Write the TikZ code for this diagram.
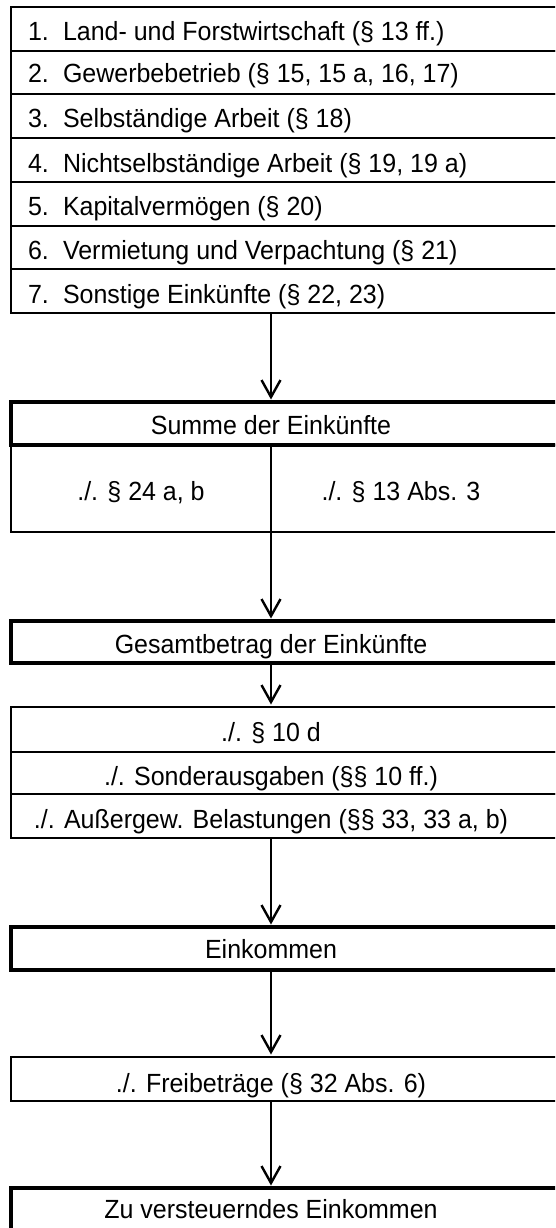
\documentclass[tikz,border=0pt]{standalone}
\usepackage{fontspec}
\setmainfont{Liberation Sans}[FakeStretch=0.95]
\usetikzlibrary{arrows.meta,calc}
\begin{document}
\begin{tikzpicture}[x=1pt,y=-1pt,
  thinbox/.style={draw, line width=2pt, inner sep=0pt, outer sep=0pt, anchor=north west, minimum width=570pt},
  thickbox/.style={thinbox, line width=3.4pt},
  lbl/.style={inner sep=0pt, outer sep=0pt, font=\fontsize{26.3}{30}\selectfont},
  arr/.style={line width=2.4pt, -{Straight Barb[length=17pt,width=19pt]}, shorten >=2.5pt}]
\useasboundingbox (0,0) rectangle (555,1228);
\clip (0,0) rectangle (555,1228);
\coordinate (cx) at (271,0);

% list of income types
\node[thinbox, minimum height=43.7pt] (r1) at (11,7) {};
\node[thinbox, minimum height=43.7pt] (r2) at (11,50.7) {};
\node[thinbox, minimum height=43.7pt] (r3) at (11,94.4) {};
\node[thinbox, minimum height=43.7pt] (r4) at (11,138.1) {};
\node[thinbox, minimum height=43.7pt] (r5) at (11,181.8) {};
\node[thinbox, minimum height=43.7pt] (r6) at (11,225.5) {};
\node[thinbox, minimum height=43.8pt] (r7) at (11,269.2) {};

\node[lbl, anchor=base west] (n1) at (28,41) {1.};
\node[lbl, anchor=base west] (t1) at (63,41) {Land- und Forstwirtschaft (§ 13 ff.)};
\node[lbl, anchor=base west] (n2) at (28,83) {2.};
\node[lbl, anchor=base west] (t2) at (63,83) {Gewerbebetrieb (§ 15, 15 a, 16, 17)};
\node[lbl, anchor=base west] (n3) at (28,128) {3.};
\node[lbl, anchor=base west] (t3) at (63,128) {Selbständige Arbeit (§ 18)};
\node[lbl, anchor=base west] (n4) at (28,172) {4.};
\node[lbl, anchor=base west] (t4) at (63,172) {Nichtselbständige Arbeit (§ 19, 19 a)};
\node[lbl, anchor=base west] (n5) at (28,215) {5.};
\node[lbl, anchor=base west] (t5) at (63,215) {Kapitalvermögen (§ 20)};
\node[lbl, anchor=base west] (n6) at (28,259) {6.};
\node[lbl, anchor=base west] (t6) at (63,259) {Vermietung und Verpachtung (§ 21)};
\node[lbl, anchor=base west] (n7) at (28,303) {7.};
\node[lbl, anchor=base west] (t7) at (63,303) {Sonstige Einkünfte (§ 22, 23)};

% Summe der Einkuenfte
\node[thinbox, minimum height=87pt] (suml) at (11,445) {};
\node[thickbox, minimum height=43pt] (summe) at (11,402) {};
\draw[line width=2pt] (suml.north -| cx) -- (suml.south -| cx);
\node[lbl, anchor=base] (tsum) at (271,434) {Summe der Einkünfte};
\node[lbl, anchor=base] (ta) at (141,500) {./. § 24 a, b};
\node[lbl, anchor=base] (tb) at (401,500) {./. § 13 Abs. 3};

% Gesamtbetrag
\node[thickbox, minimum height=42pt] (ges) at (11,621) {};
\node[lbl, anchor=base] (tges) at (271,653) {Gesamtbetrag der Einkünfte};

% deductions
\node[thinbox, minimum height=45pt] (d1) at (11,707) {};
\node[thinbox, minimum height=42pt] (d2) at (11,752) {};
\node[thinbox, minimum height=44pt] (d3) at (11,794) {};
\node[lbl, anchor=base] (td1) at (271,741) {./. § 10 d};
\node[lbl, anchor=base] (td2) at (271,785) {./. Sonderausgaben (§§ 10 ff.)};
\node[lbl, anchor=base] (td3) at (271,828) {./. Außergew. Belastungen (§§ 33, 33 a, b)};

% Einkommen
\node[thickbox, minimum height=43pt] (ein) at (11,927) {};
\node[lbl, anchor=base] (tein) at (271,958) {Einkommen};

% Freibetraege
\node[thinbox, minimum height=44pt] (frei) at (11,1057) {};
\node[lbl, anchor=base] (tfrei) at (271,1092) {./. Freibeträge (§ 32 Abs. 6)};

% zu versteuerndes Einkommen
\node[thickbox, minimum height=70pt] (zve) at (11,1188) {};
\node[lbl, anchor=base] (tzve) at (271,1218) {Zu versteuerndes Einkommen};

% connectors
\draw[arr] (r7.south -| cx) -- (summe.north -| cx);
\draw[arr] (suml.south -| cx) -- (ges.north -| cx);
\draw[arr] (ges.south -| cx) -- (d1.north -| cx);
\draw[arr] (d3.south -| cx) -- (ein.north -| cx);
\draw[arr] (ein.south -| cx) -- (frei.north -| cx);
\draw[arr] (frei.south -| cx) -- (zve.north -| cx);
\end{tikzpicture}
\end{document}
